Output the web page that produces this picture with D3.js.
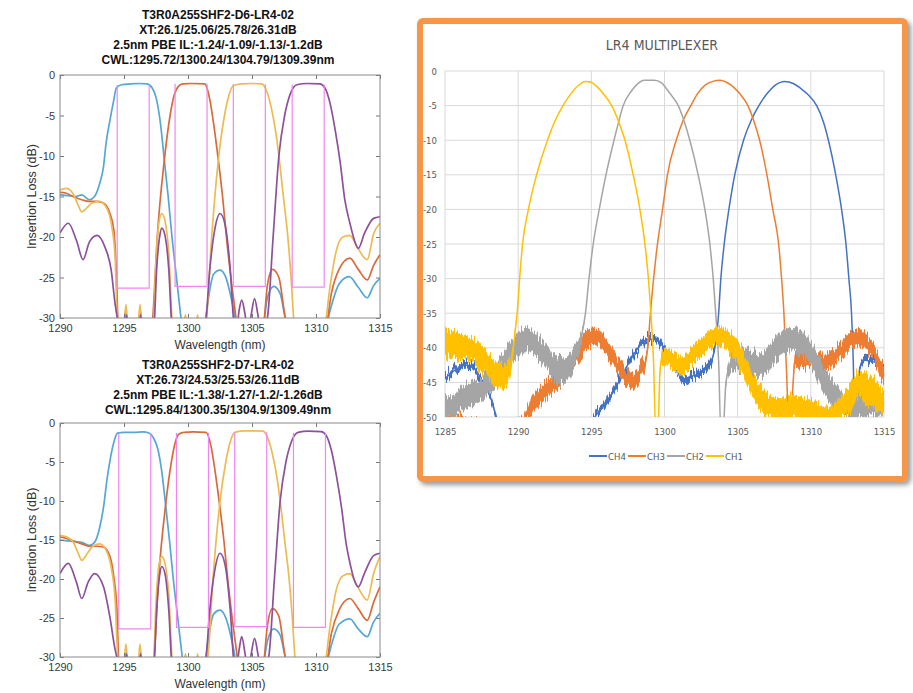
<!DOCTYPE html>
<html>
<head>
<meta charset="utf-8">
<title>LR4 MUX spectra</title>
<style>
  body { margin: 0; background: #fff; }
  svg { display: block; }
</style>
</head>
<body>
<svg width="913" height="693"></svg>
<script src="https://d3js.org/d3.v7.min.js"></script>
<script>

// ---------- left charts: measured IL spectra (wavelength nm, dB) ----------
const leftTicksX = [1290, 1295, 1300, 1305, 1310, 1315];
const leftTicksY = [0, -5, -10, -15, -20, -25, -30];

const titleTop = ["T3R0A255SHF2-D6-LR4-02", "XT:26.1/25.06/25.78/26.31dB",
  "2.5nm PBE IL:-1.24/-1.09/-1.13/-1.2dB", "CWL:1295.72/1300.24/1304.79/1309.39nm"];
const titleBot = ["T3R0A255SHF2-D7-LR4-02", "XT:26.73/24.53/25.53/26.11dB",
  "2.5nm PBE IL:-1.38/-1.27/-1.2/-1.26dB", "CWL:1295.84/1300.35/1304.9/1309.49nm"];

const cwlTop = [1295.72, 1300.24, 1304.79, 1309.39];
const ilTop = [-1.24, -1.09, -1.13, -1.2];
const floorTop = [-26.3, -26.1, -26.1, -26.2];
const cwlBot = [1295.84, 1300.35, 1304.9, 1309.49];
const ilBot = [-1.38, -1.27, -1.2, -1.26];
const floorBot = [-26.4, -26.2, -26.1, -26.2];
const pbeWidth = 2.5;

const topCh1 = [[1290.0,-14.8],[1290.6,-14.9],[1291.2,-15.0],[1291.7,-14.8],[1292.3,-15.4],[1292.7,-15.0],[1293.1,-13.4],[1293.4,-11.3],[1293.6,-8.4],[1293.9,-5.6],[1294.2,-3.1],[1294.4,-1.6],[1294.8,-1.2],[1295.5,-1.1],[1296.2,-1.05],[1296.8,-1.1],[1297.2,-1.6],[1297.55,-3.1],[1297.85,-6],[1298.15,-10.5],[1298.45,-15],[1298.75,-20],[1299.1,-25],[1299.45,-30],[1299.6,-32],[1300.5,-36],[1301.3,-31],[1301.6,-27.5],[1302.0,-24.6],[1302.5,-24.1],[1303.0,-25.2],[1303.5,-28.5],[1303.8,-31],[1304.8,-36],[1305.9,-31],[1306.2,-27.5],[1306.7,-26.1],[1307.2,-27],[1307.6,-30],[1307.8,-31],[1309,-36],[1310.8,-31],[1311.2,-28.5],[1311.8,-25.8],[1312.6,-24.9],[1313.3,-26.2],[1314.0,-27.5],[1314.5,-26],[1315,-25.1]];
const topCh2 = [[1290.0,-14.5],[1290.5,-14.6],[1291.0,-15.0],[1291.7,-15.4],[1292.3,-15.6],[1292.9,-15.6],[1293.4,-15.8],[1293.9,-17.1],[1294.2,-19.1],[1294.4,-24.1],[1294.55,-31],[1294.9,-33],[1295.1,-29.2],[1295.3,-33],[1296.1,-33],[1296.3,-29.2],[1296.5,-33],[1297.0,-34],[1297.25,-30],[1297.6,-20],[1298.15,-10.5],[1298.6,-5],[1298.9,-2.6],[1299.2,-1.5],[1299.6,-1.1],[1300.3,-1.05],[1301.3,-1.1],[1301.7,-3],[1302.0,-6],[1302.37,-10.5],[1302.7,-15],[1303.0,-20],[1303.35,-25],[1303.75,-30],[1303.9,-32],[1304.9,-36],[1305.9,-31],[1306.2,-26],[1306.6,-24],[1307.1,-25],[1307.5,-29],[1307.7,-31],[1309,-36],[1310.8,-31],[1311.2,-27],[1311.8,-24],[1312.65,-22.6],[1313.3,-24],[1314.0,-25.3],[1314.5,-23.5],[1315,-22.2]];
const topCh3 = [[1290.0,-14.2],[1290.5,-14.0],[1291.0,-14.6],[1291.4,-16.0],[1291.7,-16.9],[1292.1,-16.4],[1292.5,-15.8],[1293.1,-15.6],[1293.6,-16.3],[1294.0,-18.3],[1294.3,-22.4],[1294.5,-31],[1294.9,-33],[1295.15,-28.3],[1295.4,-33],[1296.0,-33],[1296.25,-28.3],[1296.5,-33],[1297.0,-33],[1297.3,-31],[1297.5,-23],[1297.75,-18],[1297.95,-17.1],[1298.2,-18],[1298.5,-22],[1298.8,-31],[1299.5,-33],[1299.8,-29.6],[1300.1,-33],[1300.5,-33],[1300.75,-29.6],[1301.0,-33],[1301.45,-30],[1301.85,-20],[1302.37,-10.5],[1302.85,-5],[1303.2,-2.5],[1303.55,-1.3],[1304.2,-1.1],[1305.0,-1.05],[1305.75,-1.1],[1306.15,-2],[1306.5,-4],[1306.85,-7],[1307.1,-10],[1307.45,-15],[1307.8,-20],[1308.05,-25],[1308.25,-30],[1308.4,-33],[1309.5,-36],[1310.7,-31],[1311.1,-26.1],[1311.6,-21.6],[1312.1,-20.0],[1312.65,-19.8],[1313.2,-21.2],[1314.0,-22.8],[1314.5,-19.6],[1315,-18.3]];
const topCh4 = [[1290.0,-19.5],[1290.65,-18.3],[1291.3,-20.5],[1291.8,-22.8],[1292.3,-20.6],[1292.9,-19.8],[1293.5,-21.2],[1294.0,-24.1],[1294.3,-28.2],[1294.6,-31],[1295.0,-33],[1295.2,-29.6],[1295.4,-33],[1296.1,-33],[1296.3,-29.6],[1296.5,-33],[1297.1,-33],[1297.35,-31],[1297.55,-24],[1297.8,-19.8],[1297.95,-18.9],[1298.2,-19.8],[1298.5,-24],[1298.75,-31],[1300.0,-36],[1301.35,-31],[1301.7,-24],[1302.1,-19],[1302.5,-17.1],[1302.9,-18.5],[1303.3,-24],[1303.6,-31],[1303.75,-32],[1304.0,-29],[1304.2,-27.8],[1304.45,-29.5],[1304.7,-32],[1304.95,-29.5],[1305.2,-27.6],[1305.45,-29.5],[1305.7,-32],[1306.2,-30],[1306.65,-20],[1307.1,-10],[1307.55,-5],[1308.0,-2.3],[1308.5,-1.2],[1309.3,-1.05],[1310.3,-1.1],[1310.7,-1.6],[1311.1,-3.5],[1311.5,-6.8],[1311.9,-10.9],[1312.25,-15.4],[1312.65,-18.3],[1313.0,-20.4],[1313.3,-21.4],[1313.8,-19.5],[1314.5,-17.7],[1315,-17.5]];

const botCh1 = [[1290.0,-15.0],[1290.6,-15.1],[1291.2,-15.2],[1291.7,-15.3],[1292.3,-15.7],[1292.7,-15.3],[1293.1,-13.4],[1293.4,-10.8],[1293.65,-7.5],[1293.95,-4.4],[1294.25,-2.2],[1294.5,-1.3],[1295.0,-1.2],[1295.8,-1.2],[1296.5,-1.15],[1296.9,-1.25],[1297.3,-1.9],[1297.65,-3.4],[1297.95,-6.2],[1298.25,-10.5],[1298.55,-15],[1298.85,-20],[1299.2,-25],[1299.55,-30],[1299.7,-32],[1300.5,-36],[1301.3,-31],[1301.6,-27.5],[1302.0,-24.5],[1302.5,-24.0],[1303.0,-25.2],[1303.5,-28.5],[1303.8,-31],[1304.8,-36],[1305.9,-31],[1306.2,-28],[1306.7,-26.4],[1307.2,-27.2],[1307.6,-30],[1307.8,-31],[1309,-36],[1310.8,-31],[1311.2,-28.5],[1311.8,-25.8],[1312.65,-25.1],[1313.3,-26.4],[1314.0,-27.4],[1314.5,-25.5],[1315,-24.4]];
const botCh2 = [[1290.0,-14.6],[1290.5,-14.8],[1291.0,-15.1],[1291.7,-15.5],[1292.3,-15.8],[1292.9,-15.8],[1293.4,-15.9],[1293.9,-17.1],[1294.2,-19.7],[1294.45,-24],[1294.6,-31],[1294.9,-33],[1295.1,-29.4],[1295.3,-33],[1296.1,-33],[1296.3,-29.4],[1296.5,-33],[1297.0,-34],[1297.35,-30],[1297.7,-20],[1298.25,-10.5],[1298.7,-5],[1299.0,-2.5],[1299.3,-1.4],[1299.7,-1.2],[1300.4,-1.15],[1301.4,-1.2],[1301.8,-3],[1302.1,-6],[1302.47,-10.5],[1302.8,-15],[1303.1,-20],[1303.45,-25],[1303.85,-30],[1304.0,-32],[1304.9,-36],[1305.9,-31],[1306.2,-26],[1306.6,-23.8],[1307.1,-24.8],[1307.5,-29],[1307.7,-31],[1309,-36],[1310.8,-31],[1311.2,-27],[1311.8,-24],[1312.65,-22.5],[1313.3,-23.8],[1314.0,-25.3],[1314.5,-23],[1315,-21]];
const botCh3 = [[1290.0,-14.4],[1290.5,-14.6],[1291.0,-15.2],[1291.4,-16.6],[1291.7,-17.6],[1292.1,-16.8],[1292.5,-15.9],[1293.1,-15.5],[1293.6,-16.3],[1294.0,-18.5],[1294.3,-22.5],[1294.55,-31],[1294.9,-33],[1295.15,-28.3],[1295.4,-33],[1296.0,-33],[1296.25,-28.3],[1296.5,-33],[1297.0,-33],[1297.3,-31],[1297.5,-23],[1297.75,-18],[1297.95,-17.1],[1298.2,-18],[1298.5,-22],[1298.8,-31],[1299.5,-33],[1299.8,-29.6],[1300.1,-33],[1300.5,-33],[1300.75,-29.6],[1301.0,-33],[1301.55,-30],[1301.95,-20],[1302.47,-10.5],[1302.95,-5],[1303.3,-2.4],[1303.65,-1.2],[1304.3,-1.0],[1305.1,-1.0],[1305.85,-1.05],[1306.25,-2],[1306.6,-4],[1306.95,-7],[1307.2,-10],[1307.55,-15],[1307.9,-20],[1308.15,-25],[1308.35,-30],[1308.5,-33],[1309.5,-36],[1310.7,-31],[1311.1,-26],[1311.6,-21.3],[1312.1,-19.6],[1312.65,-19.3],[1313.2,-20.8],[1314.0,-22.7],[1314.5,-19.3],[1315,-17.1]];
const botCh4 = [[1290.0,-19.3],[1290.65,-18.0],[1291.3,-20.5],[1291.7,-22.5],[1292.2,-20.4],[1292.7,-19.3],[1293.4,-21.0],[1293.9,-24.9],[1294.3,-29],[1294.6,-31],[1295.0,-33],[1295.2,-29.6],[1295.4,-33],[1296.1,-33],[1296.3,-29.6],[1296.5,-33],[1297.1,-33],[1297.35,-31],[1297.55,-24],[1297.8,-19.3],[1297.95,-18.4],[1298.2,-19.3],[1298.5,-24],[1298.75,-31],[1300.0,-36],[1301.35,-31],[1301.7,-24],[1302.1,-18.8],[1302.5,-16.7],[1302.9,-18.2],[1303.3,-24],[1303.6,-31],[1303.75,-32],[1304.0,-29],[1304.2,-27.4],[1304.45,-29.5],[1304.7,-32],[1304.95,-29.5],[1305.2,-27.6],[1305.45,-29.5],[1305.7,-32],[1306.3,-30],[1306.75,-20],[1307.2,-10],[1307.65,-5],[1308.1,-2.3],[1308.6,-1.2],[1309.4,-1.05],[1310.4,-1.1],[1310.8,-1.6],[1311.2,-3.5],[1311.6,-6.8],[1312.0,-10.9],[1312.35,-15.4],[1312.7,-18.3],[1313.0,-20.2],[1313.3,-21.0],[1313.8,-19.2],[1314.5,-17.0],[1315,-16.7]];

const leftColors = ["#55a7d6", "#d96a3c", "#edbb52", "#8d509b"];
const boxColor = "#f285f2";

// ---------- right chart: LR4 MULTIPLEXER (wavelength nm, dB, noise half-width dB) ----------
const muxTicksX = [1285, 1290, 1295, 1300, 1305, 1310, 1315];
const muxTicksY = [0, -5, -10, -15, -20, -25, -30, -35, -40, -45, -50];
const muxNames = ["CH4", "CH3", "CH2", "CH1"];
const muxColors = ["#4472c4", "#ed7d31", "#a5a5a5", "#ffc000"];

const muxCh4 = [[1285.0,-44.5,0.5],[1285.5,-43.5,0.5],[1286.0,-42.8,0.5],[1286.5,-42.5,0.5],[1287.0,-43.0,0.5],[1287.4,-44.2,0.5],[1287.8,-45.8,0.5],[1288.1,-47.1,0.5],[1288.5,-50.0,0.4],[1288.8,-52,0],[1294.8,-52,0],[1295.1,-50.5,0.4],[1295.8,-48.5,0.5],[1296.3,-47,0.5],[1296.7,-45.6,0.5],[1297.1,-44,0.5],[1297.4,-42.8,0.5],[1297.8,-41.3,0.5],[1298.1,-40.3,0.5],[1298.5,-39.2,0.5],[1298.8,-38.8,0.5],[1299.2,-38.8,0.5],[1299.5,-38.9,0.5],[1299.8,-39.5,0.5],[1300.4,-41.5,0.6],[1301.05,-43.7,0.6],[1301.4,-44.5,0.6],[1301.7,-44.2,0.6],[1302.4,-43.7,0.6],[1303.1,-42.3,0.6],[1303.4,-40.5,0.5],[1303.6,-37.5,0.2],[1303.7,-35,0],[1303.85,-30,0],[1304.08,-25,0],[1304.4,-20,0],[1304.8,-15,0],[1305.4,-10,0],[1305.95,-7,0],[1306.45,-5,0],[1307.0,-3.3,0],[1307.6,-2.0,0],[1308.2,-1.5,0],[1308.8,-1.8,0],[1309.3,-2.5,0],[1309.8,-3.4,0],[1310.4,-5,0],[1310.85,-7.3,0],[1311.2,-10,0],[1311.7,-15,0],[1312.1,-20,0],[1312.4,-25,0],[1312.6,-30,0],[1312.78,-35,0],[1312.9,-42,0],[1313.0,-52,0],[1313.15,-50,0],[1313.35,-42.8,0.5],[1313.7,-41.8,0.5],[1314.2,-42.0,0.5],[1314.7,-42.3,0.5],[1315.0,-42.5,0.5]];
const muxCh3 = [[1285.0,-51,0.7],[1286.0,-50.5,0.7],[1287.0,-51,0.7],[1288.0,-51.5,0.6],[1289.0,-52,0.6],[1290.0,-51,0.7],[1290.5,-50.0,0.9],[1291.0,-48.0,1.2],[1291.5,-47.0,1.2],[1292.0,-46.0,1.2],[1292.5,-45.0,1.2],[1293.0,-44.0,1.4],[1293.5,-42.5,1.4],[1294.0,-41.0,1.4],[1294.5,-39.3,1.4],[1295.0,-38.4,1.2],[1295.5,-38.5,1.2],[1296.0,-39.9,1.2],[1296.5,-41.5,1.2],[1297.0,-43.2,1.2],[1297.5,-44.5,1.2],[1297.9,-44.9,1.2],[1298.3,-43.5,1.2],[1298.7,-42.0,1.0],[1298.9,-39,0.4],[1299.0,-36,0],[1299.12,-33,0],[1299.46,-26,0],[1299.9,-19.5,0],[1300.2,-15,0],[1300.8,-10,0],[1301.3,-7,0],[1301.8,-5,0],[1302.25,-3.3,0],[1302.8,-2.0,0],[1303.3,-1.5,0],[1303.8,-1.35,0],[1304.3,-1.7,0],[1304.75,-2.4,0],[1305.15,-3.3,0],[1305.7,-5,0],[1306.15,-7.5,0],[1306.5,-10,0],[1307.0,-15,0],[1307.4,-20,0],[1307.8,-25,0],[1308.0,-30,0],[1308.16,-35,0],[1308.35,-44,0],[1308.5,-52,0],[1308.65,-50,0],[1308.8,-44.7,0.4],[1308.9,-42,0.9],[1309.2,-41.5,1.2],[1309.8,-41.5,1.2],[1310.5,-42.0,1.2],[1311.2,-42.0,1.2],[1312.0,-40.5,1.2],[1312.6,-39.2,1.2],[1313.3,-38.5,1.2],[1314.0,-39.8,1.2],[1314.5,-41.5,1.2],[1315.0,-44.0,1.6]];
const muxCh2 = [[1285.0,-48.5,1.5],[1285.5,-48.5,1.5],[1286.0,-47.5,1.7],[1286.5,-47.0,1.7],[1287.0,-46.5,1.7],[1287.5,-46.0,1.7],[1288.0,-45.0,1.7],[1288.5,-44.0,1.7],[1289.0,-42.5,1.7],[1289.5,-40.5,1.5],[1290.0,-39.5,1.7],[1290.5,-38.8,1.7],[1291.0,-39.3,1.7],[1291.5,-40.3,1.7],[1292.0,-41.5,1.7],[1292.5,-43.0,1.9],[1293.0,-43.5,1.9],[1293.5,-42.5,1.7],[1293.9,-41.0,1.5],[1294.3,-38.5,0.8],[1294.6,-35,0],[1294.84,-30,0],[1295.13,-25,0],[1295.54,-20,0],[1296.0,-15,0],[1296.55,-10,0],[1296.85,-7.5,0],[1297.18,-5,0],[1297.7,-3.0,0],[1298.2,-1.8,0],[1298.6,-1.35,0],[1299.3,-1.35,0],[1299.8,-1.7,0],[1300.15,-2.6,0],[1300.5,-3.6,0],[1300.94,-5,0],[1301.35,-7.3,0],[1301.73,-10,0],[1302.3,-15,0],[1302.76,-20,0],[1303.1,-25,0],[1303.33,-30,0],[1303.5,-35,0],[1303.7,-42,0],[1303.85,-52,0],[1304.0,-52,0],[1304.2,-45,0.4],[1304.6,-42,1.3],[1305.2,-41.5,1.7],[1305.8,-42.0,1.7],[1306.5,-42.5,1.7],[1307.0,-42.0,1.7],[1307.4,-40.5,1.7],[1307.9,-39.5,1.7],[1308.6,-38.8,1.7],[1309.25,-39.1,1.7],[1309.9,-40.5,1.7],[1310.6,-43.5,1.9],[1311.3,-46.0,1.9],[1312.0,-47.8,1.7],[1312.7,-48.5,1.7],[1313.3,-48.5,1.7],[1314.0,-48.0,1.7],[1314.7,-48.5,1.7],[1315.0,-48.0,1.7]];
const muxCh1 = [[1285.0,-39.5,2.1],[1285.5,-39.5,2.0],[1286.0,-39.8,1.9],[1286.5,-40.0,1.7],[1287.0,-40.5,1.7],[1287.5,-41.5,1.9],[1288.0,-42.8,1.7],[1288.5,-43.8,1.9],[1288.9,-44.3,1.7],[1289.3,-43.8,1.5],[1289.6,-41.0,1.0],[1289.8,-37.5,0.4],[1289.95,-34.5,0],[1290.1,-30,0],[1290.3,-25,0],[1290.7,-20,0],[1291.26,-15,0],[1292.0,-10,0],[1292.5,-7.3,0],[1293.06,-5,0],[1293.6,-3.3,0],[1294.1,-2.1,0],[1294.6,-1.5,0],[1294.95,-1.6,0],[1295.4,-2.3,0],[1295.9,-3.5,0],[1296.39,-5,0],[1296.9,-7.5,0],[1297.3,-10,0],[1297.86,-15,0],[1298.32,-20,0],[1298.66,-25,0],[1298.9,-30,0],[1299.07,-35,0],[1299.25,-42,0],[1299.4,-52,0],[1299.55,-52,0],[1299.7,-43,0.4],[1299.9,-41,1.0],[1300.4,-41.5,1.3],[1301.1,-42.3,1.3],[1301.7,-41.5,1.3],[1302.4,-40.0,1.3],[1303.1,-38.8,1.3],[1303.8,-38.3,1.3],[1304.5,-39.4,1.5],[1305.2,-41.3,1.7],[1305.8,-44.5,1.7],[1306.5,-47.0,1.7],[1307.2,-48.5,1.7],[1308.0,-49.0,1.7],[1308.8,-48.5,1.7],[1309.5,-49.0,1.7],[1310.2,-49.3,1.7],[1311.0,-50.0,1.5],[1311.6,-49.5,1.5],[1312.3,-48.0,1.7],[1312.8,-47.0,1.9],[1313.3,-45.0,1.7],[1313.7,-46.0,2.1],[1314.2,-46.5,2.1],[1314.7,-47.5,2.1],[1315.0,-48.0,1.7]];

const svg = d3.select("svg");
const leftFont = "'Liberation Sans', Arial, sans-serif";
const muxFont = "'Liberation Sans Narrow', 'DejaVu Sans Condensed', sans-serif";

// matlab style spectrum panel
function drawSpectrum(o) {
  const x = d3.scaleLinear().domain([1290, 1315]).range([60, 380]);
  const y = d3.scaleLinear().domain([0, -30]).range([o.top, o.bottom]);
  const g = svg.append("g").attr("font-family", leftFont);

  g.append("g").selectAll("text").data(o.title).join("text")
    .attr("x", 218).attr("y", (d, i) => o.titleY + i * 15 + 4)
    .attr("text-anchor", "middle").attr("font-size", 12).attr("font-weight", "bold")
    .attr("fill", "#111").text(d => d);

  g.append("rect").attr("x", 60).attr("y", o.top).attr("width", 320).attr("height", o.bottom - o.top)
    .attr("fill", "#fff");

  const clipId = "clip" + o.id;
  g.append("clipPath").attr("id", clipId).append("rect")
    .attr("x", 60).attr("y", o.top).attr("width", 320).attr("height", o.bottom - o.top);

  const plot = g.append("g").attr("clip-path", `url(#${clipId})`);
  const line = d3.line().x(d => x(d[0])).y(d => y(d[1])).curve(d3.curveMonotoneX);

  o.series.forEach((s, i) => {
    plot.append("path").attr("d", line(s)).attr("fill", "none")
      .attr("stroke", leftColors[i]).attr("stroke-width", 1.7);
  });

  // passband windows: CWL +/- 1.25nm, from IL down to crosstalk floor
  o.cwl.forEach((c, i) => {
    const x0 = x(c - pbeWidth / 2), x1 = x(c + pbeWidth / 2);
    plot.append("path")
      .attr("d", `M${x0},${y(o.il[i])}V${y(o.floor[i])}H${x1}V${y(o.il[i])}`)
      .attr("fill", "none").attr("stroke", boxColor).attr("stroke-width", 1.2);
  });

  const axStyle = sel => {
    sel.select(".domain").remove();
    sel.selectAll(".tick line").attr("stroke", "#777");
    sel.selectAll(".tick text").attr("fill", "#3a3a3a").attr("font-size", 11).attr("font-family", leftFont);
  };
  const fmt = d => String(d);
  g.append("g").attr("transform", `translate(0,${o.bottom})`)
    .call(d3.axisBottom(x).tickValues(leftTicksX).tickFormat(fmt).tickSizeInner(-4).tickSizeOuter(0).tickPadding(6))
    .call(axStyle);
  g.append("g").attr("transform", `translate(0,${o.top})`)
    .call(d3.axisTop(x).tickValues(leftTicksX).tickFormat("").tickSizeInner(-4).tickSizeOuter(0))
    .call(axStyle);
  g.append("g").attr("transform", "translate(60,0)")
    .call(d3.axisLeft(y).tickValues(leftTicksY).tickFormat(fmt).tickSizeInner(-4).tickSizeOuter(0).tickPadding(5))
    .call(axStyle);
  g.append("g").attr("transform", "translate(380,0)")
    .call(d3.axisRight(y).tickValues(leftTicksY).tickFormat("").tickSizeInner(-4).tickSizeOuter(0))
    .call(axStyle);

  g.append("rect").attr("x", 60).attr("y", o.top).attr("width", 320).attr("height", o.bottom - o.top)
    .attr("fill", "none").attr("stroke", "#8a8a8a").attr("stroke-width", 1);

  g.append("text").attr("x", 220).attr("y", o.bottom + 31)
    .attr("text-anchor", "middle").attr("font-size", 12).attr("fill", "#333")
    .text("Wavelength (nm)");
  g.append("text")
    .attr("transform", `translate(36,${(o.top + o.bottom) / 2}) rotate(-90)`)
    .attr("text-anchor", "middle").attr("font-size", 12.5).attr("fill", "#333")
    .text("Insertion Loss (dB)");
}

drawSpectrum({ id: "a", top: 75, bottom: 318, titleY: 15, title: titleTop,
  series: [topCh1, topCh2, topCh3, topCh4], cwl: cwlTop, il: ilTop, floor: floorTop });
drawSpectrum({ id: "b", top: 423, bottom: 657, titleY: 365, title: titleBot,
  series: [botCh1, botCh2, botCh3, botCh4], cwl: cwlBot, il: ilBot, floor: floorBot });

// ---------- right: Excel style chart in orange frame ----------
const defs = svg.append("defs");
const f = defs.append("filter").attr("id", "shadow")
  .attr("x", "-5%").attr("y", "-5%").attr("width", "112%").attr("height", "112%");
f.append("feDropShadow").attr("dx", 3).attr("dy", 3).attr("stdDeviation", 2.5)
  .attr("flood-color", "#000").attr("flood-opacity", 0.4);

// texture for the measured noise floor: jagged edges on the noise band only
const nf = defs.append("filter").attr("id", "grain").attr("filterUnits", "userSpaceOnUse")
  .attr("x", 430).attr("y", 60).attr("width", 470).attr("height", 380);
nf.append("feTurbulence").attr("type", "fractalNoise").attr("baseFrequency", "0.7 0.015")
  .attr("numOctaves", 2).attr("seed", 3).attr("result", "t");
nf.append("feColorMatrix").attr("in", "t").attr("type", "matrix")
  .attr("values", "0 0 0 0 0.5  0 1 0 0 0  0 0 1 0 0  0 0 0 0 1").attr("result", "m");
nf.append("feDisplacementMap").attr("in", "SourceGraphic").attr("in2", "m")
  .attr("scale", 20).attr("xChannelSelector", "R").attr("yChannelSelector", "G");

svg.append("rect").attr("x", 420).attr("y", 21).attr("width", 485).attr("height", 458)
  .attr("rx", 3).attr("fill", "#fff").attr("stroke", "#f79646").attr("stroke-width", 6)
  .attr("filter", "url(#shadow)");

const mx = d3.scaleLinear().domain([1285, 1315]).range([445, 884]);
const my = d3.scaleLinear().domain([0, -50]).range([71, 417]);
const mg = svg.append("g").attr("font-family", muxFont);

mg.append("text").attr("x", 662).attr("y", 50).attr("text-anchor", "middle")
  .attr("font-size", 14).attr("fill", "#595959").text("LR4 MULTIPLEXER");

mg.append("g").selectAll("line").data(muxTicksY).join("line")
  .attr("x1", mx(1285)).attr("x2", mx(1315)).attr("y1", d => my(d)).attr("y2", d => my(d))
  .attr("stroke", "#d9d9d9").attr("stroke-width", 1);
mg.append("g").selectAll("line").data(muxTicksX).join("line")
  .attr("x1", d => mx(d)).attr("x2", d => mx(d)).attr("y1", my(0)).attr("y2", my(-50))
  .attr("stroke", "#d9d9d9").attr("stroke-width", 1);

const muxAxis = sel => {
  sel.select(".domain").remove();
  sel.selectAll(".tick line").remove();
  sel.selectAll(".tick text").attr("fill", "#595959").attr("font-size", 9.5).attr("font-family", muxFont);
};
mg.append("g").attr("transform", `translate(445,0)`)
  .call(d3.axisLeft(my).tickValues(muxTicksY).tickFormat(d => String(d)).tickSize(0).tickPadding(8))
  .call(muxAxis);
mg.append("g").attr("transform", `translate(0,${my(-50)})`)
  .call(d3.axisBottom(mx).tickValues(muxTicksX).tickFormat(d => String(d)).tickSize(0).tickPadding(11))
  .call(muxAxis);

defs.append("clipPath").attr("id", "muxclip").append("rect")
  .attr("x", 445).attr("y", 70).attr("width", 440).attr("height", my(-50) - 70);
const mplot = mg.append("g").attr("clip-path", "url(#muxclip)");

const band = d3.area().x(d => mx(d[0])).y0(d => my(d[1] - d[2])).y1(d => my(d[1] + d[2]))
  .curve(d3.curveMonotoneX);
const mline = d3.line().x(d => mx(d[0])).y(d => my(d[1])).curve(d3.curveMonotoneX);

[muxCh4, muxCh3, muxCh2, muxCh1].forEach((s, i) => {
  const sg = mplot.append("g");
  sg.append("path").attr("d", band(s)).attr("fill", muxColors[i])
    .attr("stroke", "none").attr("filter", "url(#grain)");
  sg.append("path").attr("d", mline(s)).attr("fill", "none")
    .attr("stroke", muxColors[i]).attr("stroke-width", 1.5);
});

// legend
const legX = [589, 628, 667, 706];
const leg = mg.append("g").selectAll("g").data(muxNames).join("g")
  .attr("transform", (d, i) => `translate(${legX[i]},456)`);
leg.append("line").attr("x1", 0).attr("x2", 18).attr("stroke", (d, i) => muxColors[i]).attr("stroke-width", 2);
leg.append("text").attr("x", 19).attr("y", 3.5).attr("font-size", 9.5).attr("fill", "#595959").text(d => d);

</script>
</body>
</html>
